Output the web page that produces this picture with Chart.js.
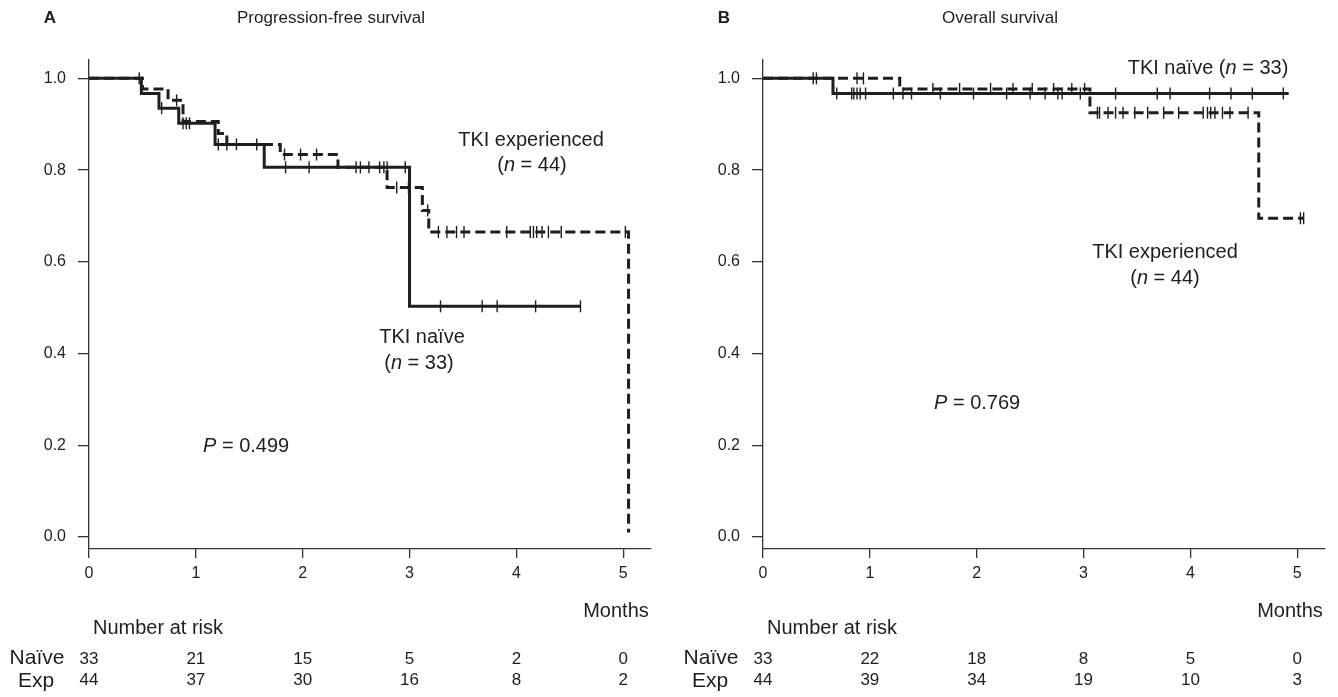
<!DOCTYPE html>
<html>
<head>
<meta charset="utf-8">
<title>Survival curves</title>
<script src="https://cdn.jsdelivr.net/npm/chart.js@4.4.1/dist/chart.umd.min.js"></script>
<style>
  body { margin: 0; background: #fff; }
  .panel { position: absolute; top: 0; }
</style>
</head>
<body>
<canvas id="pfsChart" class="panel" width="664" height="697" style="left:0"></canvas>
<canvas id="osChart" class="panel" width="664" height="697" style="left:674px"></canvas>
<script>
const xTicks = [0, 1, 2, 3, 4, 5];
const yTicks = [0, 0.2, 0.4, 0.6, 0.8, 1.0];
const riskTimes = [0, 1, 2, 3, 4, 5];

// Progression-free survival
const pfsNaiveTimes = [0, 0.49, 0.655, 0.84, 1.18, 1.64, 3.0, 4.6];
const pfsNaiveSurv = [1.0, 0.967, 0.935, 0.902, 0.856, 0.806, 0.503, 0.503];
const pfsNaiveCensor = [0.47, 0.68, 0.88, 0.91, 0.94, 1.21, 1.29, 1.38, 1.57, 1.84, 2.06, 2.5, 2.62, 2.72, 2.79, 2.96, 3.29, 3.68, 3.82, 4.18, 4.6];
const pfsExpTimes = [0, 0.5, 0.74, 0.88, 1.21, 1.29, 1.79, 2.33, 2.79, 3.12, 3.18, 5.05];
const pfsExpSurv = [1.0, 0.977, 0.952, 0.906, 0.88, 0.856, 0.834, 0.806, 0.762, 0.712, 0.665, 0.01];
const pfsExpCensor = [0.82, 1.83, 1.98, 2.13, 2.54, 2.76, 2.88, 2.99, 3.17, 3.27, 3.35, 3.44, 3.51, 3.91, 4.13, 4.16, 4.19, 4.24, 4.3, 4.42, 5.02];
const pfsNaiveRisk = [33, 21, 15, 5, 2, 0];
const pfsExpRisk = [44, 37, 30, 16, 8, 2];

// Overall survival
const osNaiveTimes = [0, 0.655, 4.92];
const osNaiveSurv = [1.0, 0.967, 0.967];
const osNaiveCensor = [0.47, 0.5, 0.69, 0.83, 0.85, 0.88, 0.91, 0.96, 1.22, 1.31, 1.39, 1.66, 1.97, 2.28, 2.5, 2.64, 2.76, 2.8, 2.97, 3.3, 3.69, 3.81, 4.18, 4.38, 4.58, 4.87];
const osExpTimes = [0, 1.28, 3.06, 4.64, 5.06];
const osExpSurv = [1.0, 0.977, 0.925, 0.695, 0.695];
const osExpCensor = [0.88, 0.94, 1.59, 1.84, 2.13, 2.34, 2.52, 2.72, 2.89, 3.01, 3.13, 3.15, 3.23, 3.3, 3.37, 3.48, 3.6, 3.75, 3.89, 4.12, 4.16, 4.19, 4.23, 4.3, 4.37, 4.54, 5.03, 5.06];
const osNaiveRisk = [33, 22, 18, 8, 5, 0];
const osExpRisk = [44, 39, 34, 19, 10, 3];

const FONT = '"Liberation Sans", Arial, sans-serif';
const NARROW = '"Liberation Sans Narrow", "Liberation Sans", Arial, sans-serif';
const INK = "#1e1e1e";

function levelAt(times, surv, t) {
  let s = surv[0];
  for (let i = 0; i < times.length; i++) {
    if (times[i] <= t) s = surv[i];
  }
  return s;
}

function curve(times, surv) {
  return times.map((t, i) => ({ x: t, y: surv[i] }));
}

function censorMarks(marks, times, surv) {
  return marks.map((t) => ({ x: t, y: levelAt(times, surv, t) }));
}

// draws text made of plain / italic pieces
function richText(ctx, parts, x, y, align, size) {
  const fonts = parts.map((p) => (p[1] ? "italic " : "") + size + "px " + FONT);
  let total = 0;
  const widths = parts.map((p, i) => {
    ctx.font = fonts[i];
    const w = ctx.measureText(p[0]).width;
    total += w;
    return w;
  });
  let cx = align === "center" ? x - total / 2 : x;
  ctx.textAlign = "left";
  parts.forEach((p, i) => {
    ctx.font = fonts[i];
    ctx.fillText(p[0], cx, y);
    cx += widths[i];
  });
}

function makeTextPlugin(panel) {
  return {
    id: "panelText",
    afterDraw(chart) {
      const { ctx } = chart;
      const xScale = chart.scales.x;
      ctx.save();
      ctx.fillStyle = INK;
      ctx.textBaseline = "middle";

      ctx.font = "bold 17px " + FONT;
      ctx.textAlign = "center";
      ctx.fillText(panel.letter, 50, 18);
      ctx.font = "17px " + FONT;
      ctx.fillText(panel.title, panel.titleX, 18);

      panel.notes.forEach((n) => richText(ctx, n.parts, n.x, n.y, n.align, 20));

      ctx.font = "20px " + FONT;
      ctx.textAlign = "center";
      ctx.fillText("Months", 616, 611);
      ctx.textAlign = "left";
      ctx.fillText("Number at risk", 93, 628);

      ctx.font = "21px " + FONT;
      ctx.textAlign = "center";
      ctx.fillText("Naïve", 37, 658);
      ctx.fillText("Exp", 36, 681);

      ctx.font = "17px " + NARROW;
      riskTimes.forEach((t, i) => {
        const px = xScale.getPixelForValue(t);
        ctx.fillText(String(panel.naiveRisk[i]), px, 659);
        ctx.fillText(String(panel.expRisk[i]), px, 680);
      });
      ctx.restore();
    },
  };
}

function makePanel(canvasId, panel) {
  const ctx = document.getElementById(canvasId).getContext("2d");
  const censorStyle = {
    showLine: false,
    pointStyle: "line",
    pointRotation: 90,
    pointRadius: 6,
    pointBorderWidth: 1.4,
    pointBorderColor: INK,
    pointBackgroundColor: INK,
  };
  return new Chart(ctx, {
    type: "scatter",
    data: {
      datasets: [
        {
          data: curve(panel.naiveTimes, panel.naiveSurv),
          showLine: true,
          stepped: true,
          borderColor: INK,
          borderWidth: 3,
          pointRadius: 0,
        },
        {
          data: curve(panel.expTimes, panel.expSurv),
          showLine: true,
          stepped: true,
          borderColor: INK,
          borderWidth: 3,
          borderDash: [10, 5],
          pointRadius: 0,
        },
        Object.assign({ data: censorMarks(panel.naiveCensor, panel.naiveTimes, panel.naiveSurv) }, censorStyle),
        Object.assign({ data: censorMarks(panel.expCensor, panel.expTimes, panel.expSurv) }, censorStyle),
      ],
    },
    options: {
      responsive: false,
      animation: false,
      events: [],
      layout: { padding: { left: 39, right: 13, top: 60, bottom: 108 } },
      scales: {
        x: {
          type: "linear",
          min: 0,
          max: 5.26,
          afterBuildTicks: (s) => { s.ticks = xTicks.map((v) => ({ value: v })); },
          afterFit: (s) => { s.height = 40; },
          grid: { drawOnChartArea: false, tickLength: 9, color: "#333", lineWidth: 1.3 },
          border: { display: true, color: "#333", width: 1.3 },
          ticks: { autoSkip: false, maxRotation: 0, padding: 6, color: INK, font: { family: FONT, size: 16 } },
        },
        y: {
          type: "linear",
          min: -0.026,
          max: 1.04,
          afterBuildTicks: (s) => { s.ticks = yTicks.map((v) => ({ value: v })); },
          afterFit: (s) => { s.width = 50; },
          grid: { drawOnChartArea: false, tickLength: 11, color: "#333", lineWidth: 1.3 },
          border: { display: true, color: "#333", width: 1.3 },
          ticks: {
            autoSkip: false,
            padding: 12,
            color: INK,
            font: { family: FONT, size: 16 },
            callback: (v) => Number(v).toFixed(1),
          },
        },
      },
      plugins: {
        legend: { display: false },
        tooltip: { enabled: false },
      },
    },
    plugins: [makeTextPlugin(panel)],
  });
}

makePanel("pfsChart", {
  letter: "A",
  title: "Progression-free survival",
  titleX: 331,
  naiveTimes: pfsNaiveTimes,
  naiveSurv: pfsNaiveSurv,
  naiveCensor: pfsNaiveCensor,
  expTimes: pfsExpTimes,
  expSurv: pfsExpSurv,
  expCensor: pfsExpCensor,
  naiveRisk: pfsNaiveRisk,
  expRisk: pfsExpRisk,
  notes: [
    { parts: [["TKI experienced", false]], x: 531, y: 140, align: "center" },
    { parts: [["(", false], ["n", true], [" = 44)", false]], x: 532, y: 165, align: "center" },
    { parts: [["TKI naïve", false]], x: 422, y: 337, align: "center" },
    { parts: [["(", false], ["n", true], [" = 33)", false]], x: 419, y: 363, align: "center" },
    { parts: [["P", true], [" = 0.499", false]], x: 203, y: 446, align: "left" },
  ],
});

makePanel("osChart", {
  letter: "B",
  title: "Overall survival",
  titleX: 326,
  naiveTimes: osNaiveTimes,
  naiveSurv: osNaiveSurv,
  naiveCensor: osNaiveCensor,
  expTimes: osExpTimes,
  expSurv: osExpSurv,
  expCensor: osExpCensor,
  naiveRisk: osNaiveRisk,
  expRisk: osExpRisk,
  notes: [
    { parts: [["TKI naïve (", false], ["n", true], [" = 33)", false]], x: 534, y: 68, align: "center" },
    { parts: [["TKI experienced", false]], x: 491, y: 252, align: "center" },
    { parts: [["(", false], ["n", true], [" = 44)", false]], x: 491, y: 278, align: "center" },
    { parts: [["P", true], [" = 0.769", false]], x: 260, y: 403, align: "left" },
  ],
});
</script>
</body>
</html>
